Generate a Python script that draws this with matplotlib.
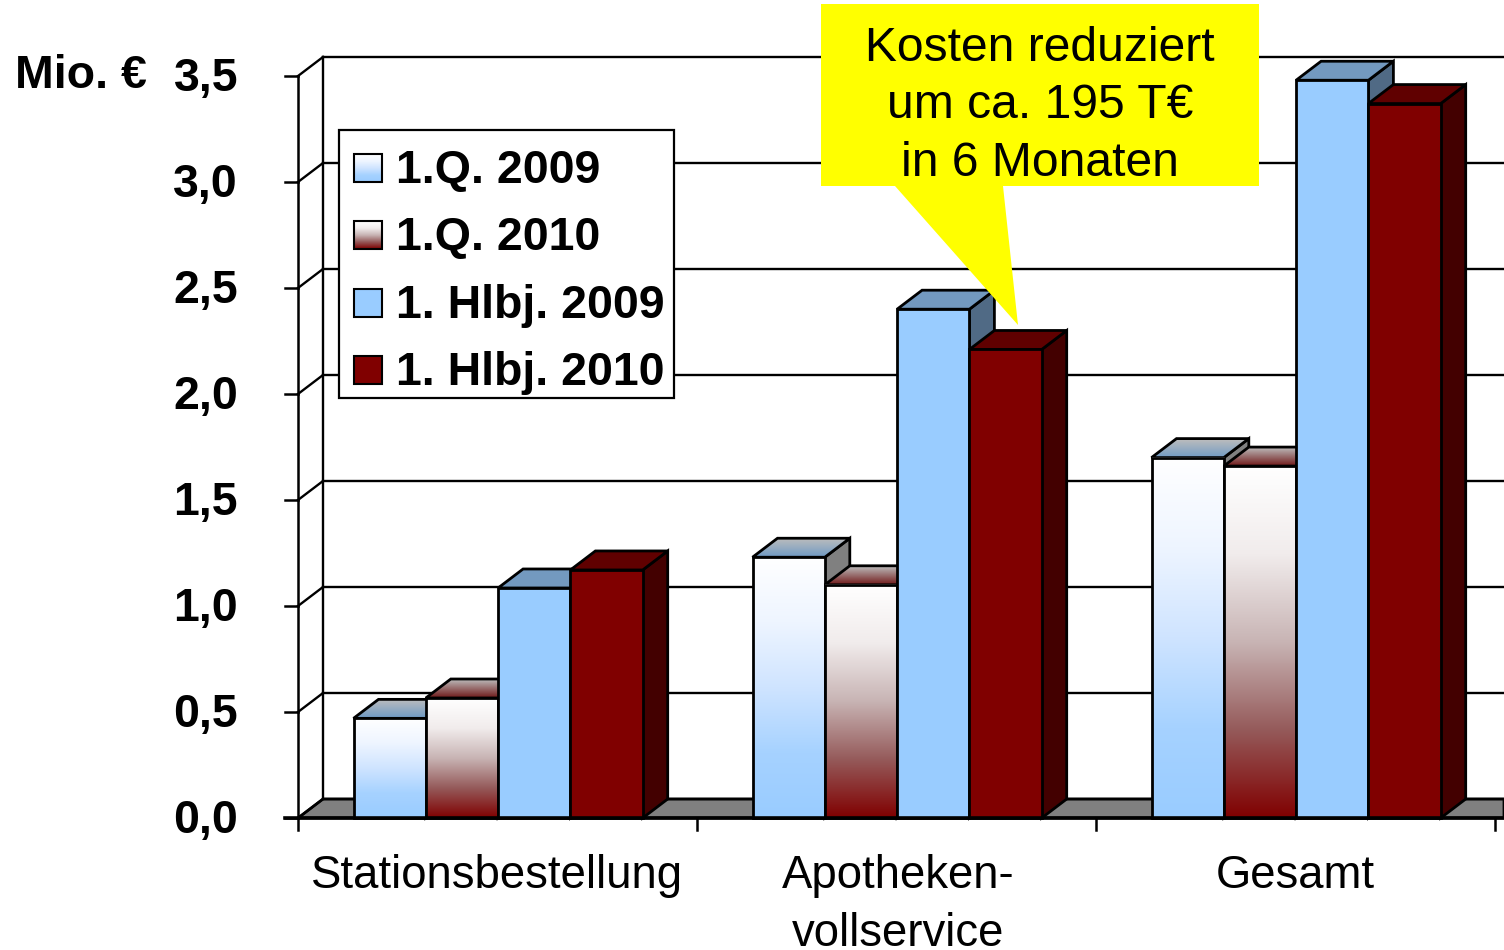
import numpy as np
import matplotlib
matplotlib.use('Agg')
import matplotlib.pyplot as plt
from matplotlib.colors import LinearSegmentedColormap
from matplotlib.patches import Polygon, Rectangle

plt.rcParams['font.family'] = ['Liberation Sans', 'DejaVu Sans']

categories = ['Stationsbestellung', 'Apotheken-\nvollservice', 'Gesamt']
series_names = ['1.Q. 2009', '1.Q. 2010', '1. Hlbj. 2009', '1. Hlbj. 2010']
q1_2009 = [0.47, 1.23, 1.70]
q1_2010 = [0.566, 1.10, 1.66]
hj_2009 = [1.085, 2.40, 3.48]
hj_2010 = [1.17, 2.21, 3.37]
y_ticks = [0.0, 0.5, 1.0, 1.5, 2.0, 2.5, 3.0, 3.5]
y_labels = ['0,0', '0,5', '1,0', '1,5', '2,0', '2,5', '3,0', '3,5']
callout = 'Kosten reduziert\num ca. 195 T€\nin 6 Monaten'

W, H = 1504, 950
X0, Y0 = 298, 818      # pixel position of the axis origin
CAT_PX, VAL_PX = 399, 212
DX, DY = 25 / CAT_PX, 19 / VAL_PX   # depth of the 3d box
BAR_W = 72.3 / CAT_PX
GROUP_OFF = 55.5 / CAT_PX

BLUE = '#99ccff'
RED = '#800000'

# gradients run from the foot of the bar (first colour) to its top
BLUE_GRAD = LinearSegmentedColormap.from_list('b', [BLUE, '#a6d2ff', '#cfe4ff', '#eef5ff', '#ffffff'], N=512)
RED_GRAD = LinearSegmentedColormap.from_list('r', [RED, '#955a5a', '#c8b4b4', '#f1ecec', '#ffffff'], N=512)
BLUE_LID = LinearSegmentedColormap.from_list('bl', ['#6f9ac4', '#bdbdbd'])
RED_LID = LinearSegmentedColormap.from_list('rl', ['#701818', '#bdbdbd'])

fig = plt.figure(figsize=(W / 100, H / 100), dpi=100)
ax = fig.add_axes([0, 0, 1, 1])
ax.axis('off')
xlim = (-X0 / CAT_PX, (W - X0) / CAT_PX)
ylim = ((Y0 - H) / VAL_PX, Y0 / VAL_PX)


def darker(col, f):
    return tuple(c * f for c in matplotlib.colors.to_rgb(col))


def bar3d(x, v, fill, z):
    x1 = x + BAR_W
    ramp = np.linspace(0, 1, 512).reshape(-1, 1)
    if isinstance(fill, tuple):
        body, top = fill
        ax.add_patch(Polygon([(x1, 0), (x1 + DX, DY), (x1 + DX, v + DY), (x1, v)],
                             fc='#808080', ec='k', lw=2, zorder=z))
        lid = Polygon([(x, v), (x + DX, v + DY), (x1 + DX, v + DY), (x1, v)],
                      fc='none', ec='k', lw=2, zorder=z + 0.2)
        ax.add_patch(lid)
        im = ax.imshow(ramp, origin='lower', aspect='auto', cmap=top,
                       extent=(x, x1 + DX, v, v + DY), zorder=z + 0.1)
        im.set_clip_path(lid)
        ax.imshow(ramp, origin='lower', aspect='auto', cmap=body, interpolation='bilinear',
                  extent=(x, x1, 0, v), zorder=z + 0.3)
        ax.add_patch(Rectangle((x, 0), BAR_W, v, fc='none', ec='k', lw=2, zorder=z + 0.4))
    else:
        ax.add_patch(Polygon([(x1, 0), (x1 + DX, DY), (x1 + DX, v + DY), (x1, v)],
                             fc=darker(fill, 0.52), ec='k', lw=2, zorder=z))
        ax.add_patch(Polygon([(x, v), (x + DX, v + DY), (x1 + DX, v + DY), (x1, v)],
                             fc=darker(fill, 0.75), ec='k', lw=2, zorder=z))
        ax.add_patch(Rectangle((x, 0), BAR_W, v, fc=fill, ec='k', lw=2, zorder=z + 0.4))


# walls and floor
ax.add_patch(Polygon([(0, 0), (DX, DY), (xlim[1], DY), (xlim[1], 0)], fc='#808080', ec='k', lw=2, zorder=1))
for t, lab in zip(y_ticks, y_labels):
    ax.plot([0, DX], [t, t + DY], color='k', lw=1.7, zorder=1)
    ax.plot([DX, xlim[1]], [t + DY, t + DY], color='k', lw=1.7, zorder=1)
    ax.plot([-13 / CAT_PX, 0], [t, t], color='k', lw=1.8, zorder=2)
    ax.text(-60 / CAT_PX, t - 3 / VAL_PX, lab, ha='right', va='center',
            fontsize=33.5, fontweight='bold', zorder=5)
ax.plot([0, 0], [0, 3.5], color='k', lw=1.8, zorder=2)
ax.plot([DX, DX], [DY, 3.5 + DY], color='k', lw=1.7, zorder=1)
ax.plot([-13 / CAT_PX, xlim[1]], [0, 0], color='k', lw=2.6, zorder=30)
for i in range(4):
    ax.plot([i, i], [0, -12 / VAL_PX], color='k', lw=1.8, zorder=2)

# bars
fills = [(BLUE_GRAD, BLUE_LID), (RED_GRAD, RED_LID), BLUE, RED]
all_vals = [q1_2009, q1_2010, hj_2009, hj_2010]
for c in range(len(categories)):
    for s, vals in enumerate(all_vals):
        z = 3 + c * 4 + s * 0.9
        bar3d(c + GROUP_OFF + s * BAR_W, vals[c], fills[s], z)

for c, name in enumerate(categories):
    ax.text(c + 0.5 + (2 / CAT_PX if c == 1 else 0), -36 / VAL_PX, name, ha='center', va='top',
            fontsize=32.8, linespacing=1.4, zorder=5)

ax.set_xlim(xlim)
ax.set_ylim(ylim)

# overlay in pixels for the annotations
ov = fig.add_axes([0, 0, 1, 1])
ov.axis('off')
ov.patch.set_alpha(0)

ov.text(15, 76, 'Mio. €', ha='left', va='center', fontsize=33.5, fontweight='bold')

# legend
ov.add_patch(Rectangle((339, 130), 335, 268, fc='white', ec='k', lw=1.6, zorder=2))
leg_y = [168, 235, 303, 370]
for y, name, f in zip(leg_y, series_names, fills):
    if isinstance(f, tuple):
        ov.imshow(np.linspace(0, 1, 64).reshape(-1, 1), cmap=f[0], aspect='auto', zorder=3,
                  origin='lower', interpolation='bilinear', extent=(354, 382, y + 14, y - 14))
        ov.add_patch(Rectangle((354, y - 14), 28, 28, fc='none', ec='k', lw=1.5, zorder=4))
    else:
        ov.add_patch(Rectangle((354, y - 14), 28, 28, fc=f, ec='k', lw=1.5, zorder=4))
    ov.text(396, y + 3, name, ha='left', va='center', fontsize=33.5, fontweight='bold', zorder=5)

# yellow callout
ov.add_patch(Polygon([(821, 4), (1259, 4), (1259, 186), (1003, 186), (1018, 325),
                      (895, 186), (821, 186)], fc='#ffff00', ec='none', zorder=6))
ov.text(1040, 106, callout, ha='center', va='center', fontsize=34.6, linespacing=1.36, zorder=7)

ov.set_xlim(0, W)
ov.set_ylim(H, 0)

fig.savefig('out.png', dpi=100)
